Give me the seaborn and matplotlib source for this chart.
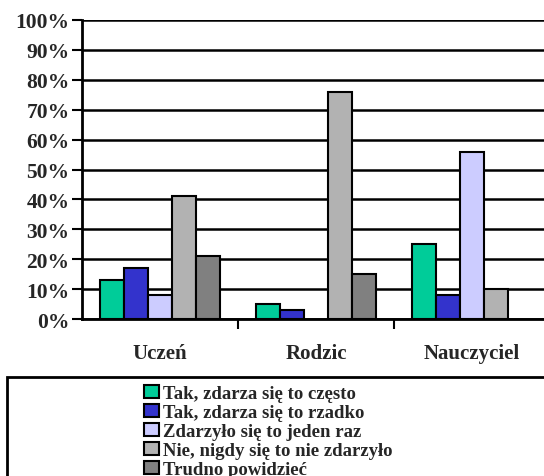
import numpy as np
import pandas as pd
import matplotlib
matplotlib.use('Agg')
import matplotlib.pyplot as plt
import seaborn as sns
from matplotlib.patches import Rectangle

# dane z wykresu (w %)
kategorie = ['Uczeń', 'Rodzic', 'Nauczyciel']
odpowiedzi = ['Tak, zdarza się to często', 'Tak, zdarza się to rzadko',
              'Zdarzyło się to jeden raz', 'Nie, nigdy się to nie zdarzyło',
              'Trudno powidzieć']
czesto = [13, 5, 25]
rzadko = [17, 3, 8]
jeden_raz = [8, np.nan, 56]
nigdy = [41, 76, 10]
trudno = [21, 15, np.nan]
kolory = ['#00CC99', '#3333CC', '#CCCCFF', '#B2B2B2', '#808080']

wiersze = []
for odp, wartosci in zip(odpowiedzi, [czesto, rzadko, jeden_raz, nigdy, trudno]):
    for kat, w in zip(kategorie, wartosci):
        wiersze.append({'kategoria': kat, 'odpowiedz': odp, 'procent': w})
df = pd.DataFrame(wiersze)

sns.set_style('white')
plt.rcParams['font.family'] = ['Liberation Serif', 'DejaVu Serif']
plt.rcParams['font.weight'] = 'bold'

fig = plt.figure(figsize=(5.44, 4.77), dpi=100)
ax = fig.add_axes([82 / 544, 1 - 320 / 477, 468 / 544, 299 / 477])

sns.barplot(df, x='kategoria', y='procent', hue='odpowiedz', order=kategorie,
            hue_order=odpowiedzi, palette=kolory, width=0.77, edgecolor='black',
            linewidth=1.5, saturation=1, ax=ax)

ax.set_ylim(0, 100)
ax.set_xlim(-0.5, 2.5)
ax.set_yticks(range(0, 101, 10))
ax.set_yticklabels([f'{v}%' for v in range(0, 101, 10)], fontsize=15.5, fontweight='bold')
ax.yaxis.grid(True, color='black', linewidth=1.8)
ax.set_axisbelow(True)
ax.set_xlabel('')
ax.set_ylabel('')

# podzialki osi X miedzy kategoriami
ax.set_xticks([0.5, 1.5, 2.5], minor=False)
ax.set_xticklabels([])
ax.set_xticks([0, 1, 2], minor=True)
ax.set_xticklabels(kategorie, minor=True, fontsize=15, fontweight='bold')
ax.tick_params(axis='x', which='major', direction='out', length=7, width=1.5, bottom=True, color='black')
ax.tick_params(axis='x', which='minor', length=0, pad=17)
ax.tick_params(axis='y', direction='out', length=7, width=1.5, left=True, color='black', pad=2)

for s in ['top', 'right']:
    ax.spines[s].set_visible(False)
for s in ['left', 'bottom']:
    ax.spines[s].set_color('black')
    ax.spines[s].set_linewidth(2)

ax.get_legend().remove()
uchwyty = [Rectangle((0, 0), 1, 1, facecolor=k, edgecolor='black', linewidth=1.5) for k in kolory]
fig.legend(uchwyty, odpowiedzi, loc='upper left', bbox_to_anchor=(133 / 544, 1 - 375 / 477),
           frameon=False, prop={'weight': 'bold', 'size': 13.5},
           handlelength=0.8, handleheight=0.7, handletextpad=0.2,
           labelspacing=0.1, borderpad=0.1)

fig.patches.append(Rectangle((7 / 544, -0.05), 1.1, (477 - 378) / 477 + 0.05,
                             transform=fig.transFigure, fill=False,
                             edgecolor='black', linewidth=2, clip_on=False))

fig.savefig('out.png', dpi=100)
